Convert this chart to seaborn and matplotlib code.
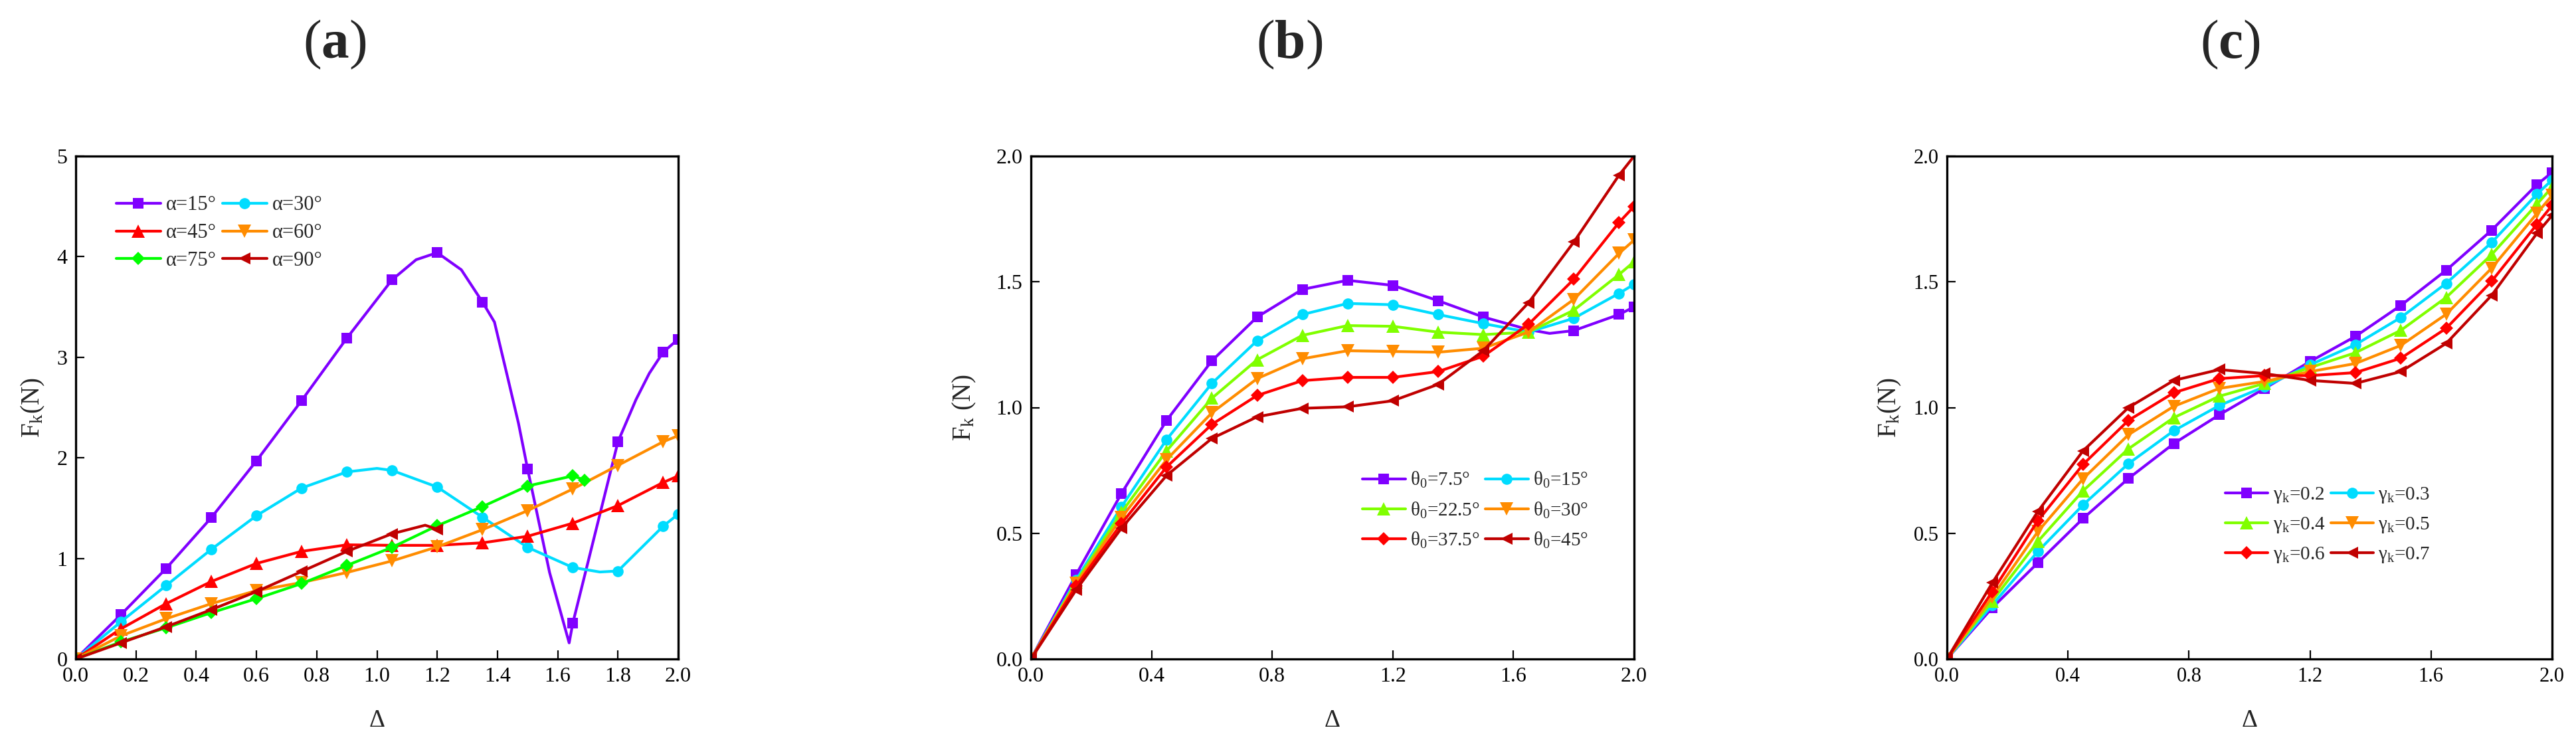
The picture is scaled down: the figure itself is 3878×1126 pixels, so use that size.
import numpy as np
import matplotlib
matplotlib.use("Agg")
import matplotlib.pyplot as plt
from matplotlib.lines import Line2D
import seaborn as sns

# ---- style ----
sns.set_theme(style="ticks")
plt.rcParams['font.family'] = ['Liberation Serif', 'DejaVu Serif']
plt.rcParams['mathtext.fontset'] = 'custom'
plt.rcParams['mathtext.rm'] = 'Liberation Serif'
plt.rcParams['mathtext.it'] = 'Liberation Serif:italic'
plt.rcParams['mathtext.bf'] = 'Liberation Serif:bold'

# ---- data ----
DELTA = [0.0, 0.15, 0.30, 0.45, 0.60, 0.75, 0.90, 1.05, 1.20, 1.35, 1.50, 1.65, 1.80, 1.95, 2.00]

# (a) effect of alpha
a_labels = ['α=15°', 'α=30°', 'α=45°', 'α=60°', 'α=75°', 'α=90°']
a15 = [0, 0.44, 0.90, 1.405, 1.97, 2.57, 3.19, 3.77, 4.04, 3.55, 1.89, 0.355, 2.16, 3.05, 3.18]
# curve points between markers (line only)
a15_extra_x = [1.13, 1.28, 1.39, 1.433, 1.47, 1.573, 1.638, 1.86, 1.904]
a15_extra_y = [3.97, 3.87, 3.35, 2.81, 2.34, 0.86, 0.16, 2.58, 2.84]
a30 = [0, 0.37, 0.73, 1.09, 1.425, 1.70, 1.86, 1.875, 1.71, 1.41, 1.11, 0.91, 0.875, 1.32, 1.44]
a30_extra_x = [1.0, 1.74]
a30_extra_y = [1.895, 0.865]
a45 = [0, 0.30, 0.55, 0.77, 0.95, 1.07, 1.135, 1.13, 1.13, 1.155, 1.22, 1.35, 1.525, 1.755, 1.82]
a60 = [0, 0.23, 0.40, 0.55, 0.68, 0.76, 0.86, 0.975, 1.115, 1.285, 1.475, 1.69, 1.925, 2.16, 2.22]
a75_x = DELTA[:12] + [1.69]
a75 = [0, 0.17, 0.31, 0.46, 0.60, 0.75, 0.93, 1.11, 1.325, 1.515, 1.72, 1.82, 1.78]
a90_x = DELTA[:9]
a90 = [0, 0.16, 0.32, 0.49, 0.67, 0.87, 1.07, 1.245, 1.29]
a90_extra_x = [1.16]
a90_extra_y = [1.33]

# (b) effect of theta_0
b_labels = [r'θ$_\mathrm{0}$=7.5°', r'θ$_\mathrm{0}$=15°', r'θ$_\mathrm{0}$=22.5°',
            r'θ$_\mathrm{0}$=30°', r'θ$_\mathrm{0}$=37.5°', r'θ$_\mathrm{0}$=45°']
b75 = [0, 0.336, 0.658, 0.949, 1.186, 1.36, 1.47, 1.506, 1.486, 1.425, 1.36, 1.31, 1.306, 1.37, 1.40]
b75_extra_x = [1.72]
b75_extra_y = [1.295]
b15 = [0, 0.315, 0.605, 0.873, 1.096, 1.266, 1.37, 1.414, 1.409, 1.37, 1.334, 1.30, 1.355, 1.454, 1.49]
b225 = [0, 0.307, 0.583, 0.828, 1.037, 1.19, 1.287, 1.326, 1.323, 1.30, 1.29, 1.30, 1.387, 1.529, 1.58]
b30 = [0, 0.30, 0.562, 0.793, 0.979, 1.115, 1.194, 1.226, 1.223, 1.22, 1.236, 1.30, 1.43, 1.613, 1.666]
b375 = [0, 0.29, 0.538, 0.764, 0.933, 1.048, 1.107, 1.12, 1.12, 1.143, 1.204, 1.331, 1.51, 1.736, 1.80]
b45 = [0, 0.275, 0.52, 0.73, 0.877, 0.963, 0.997, 1.003, 1.027, 1.092, 1.226, 1.417, 1.658, 1.924, 2.0]

# (c) effect of gamma_k
c_labels = [r'γ$_\mathrm{k}$=0.2', r'γ$_\mathrm{k}$=0.3', r'γ$_\mathrm{k}$=0.4',
            r'γ$_\mathrm{k}$=0.5', r'γ$_\mathrm{k}$=0.6', r'γ$_\mathrm{k}$=0.7']
c02 = [0, 0.204, 0.382, 0.559, 0.718, 0.857, 0.971, 1.076, 1.183, 1.283, 1.406, 1.546, 1.705, 1.887, 1.935]
c03 = [0, 0.215, 0.427, 0.613, 0.777, 0.908, 1.008, 1.083, 1.17, 1.25, 1.358, 1.494, 1.656, 1.849, 1.905]
c04 = [0, 0.231, 0.467, 0.669, 0.836, 0.96, 1.045, 1.096, 1.159, 1.218, 1.307, 1.438, 1.608, 1.809, 1.876]
c05 = [0, 0.247, 0.506, 0.717, 0.892, 1.005, 1.076, 1.104, 1.143, 1.175, 1.247, 1.371, 1.554, 1.772, 1.844]
c06 = [0, 0.268, 0.549, 0.774, 0.949, 1.059, 1.115, 1.127, 1.127, 1.139, 1.196, 1.315, 1.502, 1.729, 1.804]
c07 = [0, 0.303, 0.586, 0.828, 1.0, 1.108, 1.151, 1.135, 1.108, 1.096, 1.143, 1.255, 1.446, 1.693, 1.764]

# ---- styling ----
PURPLE, CYAN, LIME, GREEN = '#8000ff', '#00dcff', '#80ff00', '#00ff00'
ORANGE, RED, DARKRED = '#ff8c00', '#ff0000', '#c00000'
MARKERS = ['s', 'o', '^', 'v', 'D', '<']
MSIZE = {'s': 11.5, 'o': 12, '^': 14, 'v': 14, 'D': 10.5, '<': 13}
LW = 3.0


def merge(xm, ym, xe=(), ye=()):
    """combine marker points and extra curve points, return indices of markers"""
    x = np.concatenate([np.asarray(xm, float), np.asarray(xe, float)])
    y = np.concatenate([np.asarray(ym, float), np.asarray(ye, float)])
    is_mark = np.concatenate([np.ones(len(xm)), np.zeros(len(xe))])
    order = np.argsort(x, kind='stable')
    return x[order], y[order], [int(i) for i in np.flatnonzero(is_mark[order])]


def draw_panel(ax, series, labels, colors, yticks, ytick_fmt, xticks, ylabel,
               ylabel_x, legend_xy, labelspacing, tick_size, legend_size):
    handles = []
    for (xm, ym, xe, ye), lab, col, mk in zip(series, labels, colors, MARKERS):
        x, y, idx = merge(xm, ym, xe, ye)
        sns.lineplot(x=x, y=y, ax=ax, color=col, linewidth=LW, marker=mk,
                     markersize=MSIZE[mk], markevery=idx, markeredgewidth=0,
                     markeredgecolor=col, estimator=None, sort=False)
        handles.append(Line2D([], [], color=col, lw=LW, marker=mk,
                              markersize=MSIZE[mk], markeredgewidth=0))

    ax.set_xlim(0, 2)
    ax.set_ylim(yticks[0], yticks[-1])
    ax.set_xticks(xticks)
    ax.set_xticklabels([f'{t:.1f}' for t in xticks])
    ax.set_yticks(yticks)
    ax.set_yticklabels([ytick_fmt.format(t) for t in yticks])
    ax.tick_params(direction='in', length=9.5, width=1.6, labelsize=tick_size,
                   pad=9, colors='black', top=False, right=False)
    for sp in ax.spines.values():
        sp.set_linewidth(2.4)
        sp.set_color('black')

    ax.set_xlabel('Δ', fontsize=27, va='center')
    ax.xaxis.set_label_coords(0.5, -0.123)
    ax.set_ylabel(ylabel, fontsize=28, va='center')
    ax.yaxis.set_label_coords(ylabel_x, 0.5)

    # row-wise order for a two-column legend
    order = [0, 2, 4, 1, 3, 5]
    ax.legend([handles[i] for i in order], [labels[i] for i in order],
              ncol=2, loc='center left', bbox_to_anchor=legend_xy,
              frameon=False, fontsize=legend_size, handlelength=2.2,
              handletextpad=0.25, columnspacing=0.3, labelspacing=labelspacing,
              borderpad=0, borderaxespad=0)


fig = plt.figure(figsize=(38.78, 11.26), dpi=100)
W, H = 3878, 1126
bottom, height = (H - 992) / H, 757 / H
ax_a = fig.add_axes([114 / W, bottom, 907 / W, height])
ax_b = fig.add_axes([1552 / W, bottom, 908 / W, height])
ax_c = fig.add_axes([2931 / W, bottom, 911 / W, height])

# (a)
series_a = [
    (DELTA, a15, a15_extra_x, a15_extra_y),
    (DELTA, a30, a30_extra_x, a30_extra_y),
    (DELTA, a45, [], []),
    (DELTA, a60, [], []),
    (a75_x, a75, [], []),
    (a90_x, a90, a90_extra_x, a90_extra_y),
]
draw_panel(ax_a, series_a, a_labels, [PURPLE, CYAN, RED, ORANGE, GREEN, DARKRED],
           [0, 1, 2, 3, 4, 5], '{:.0f}', [0.0, 0.2, 0.4, 0.6, 0.8, 1.0, 1.2, 1.4, 1.6, 1.8, 2.0],
           r'F$_\mathrm{k}$(N)', -0.0706, (0.067, 0.847), 0.42, 23, 22)

# (b)
series_b = [
    (DELTA, b75, b75_extra_x, b75_extra_y),
    (DELTA, b15, [], []),
    (DELTA, b225, [], []),
    (DELTA, b30, [], []),
    (DELTA, b375, [], []),
    (DELTA, b45, [], []),
]
draw_panel(ax_b, series_b, b_labels, [PURPLE, CYAN, LIME, ORANGE, RED, DARKRED],
           [0.0, 0.5, 1.0, 1.5, 2.0], '{:.1f}', [0.0, 0.4, 0.8, 1.2, 1.6, 2.0],
           r'F$_\mathrm{k}$ (N)', -0.110, (0.55, 0.296), 0.55, 23, 21)

# (c)
series_c = [(DELTA, s, [], []) for s in (c02, c03, c04, c05, c06, c07)]
draw_panel(ax_c, series_c, c_labels, [PURPLE, CYAN, LIME, ORANGE, RED, DARKRED],
           [0.0, 0.5, 1.0, 1.5, 2.0], '{:.1f}', [0.0, 0.4, 0.8, 1.2, 1.6, 2.0],
           r'F$_\mathrm{k}$(N)', -0.0944, (0.46, 0.266), 0.55, 22, 21)

# panel letters
for xpix, letter in [(504, 'a'), (1941, 'b'), (3357, 'c')]:
    fig.text(xpix / W, 1 - 67 / H, r'($\mathbf{' + letter + r'}$)', fontsize=60,
             ha='center', va='center')

fig.savefig('out.png', dpi=100)
